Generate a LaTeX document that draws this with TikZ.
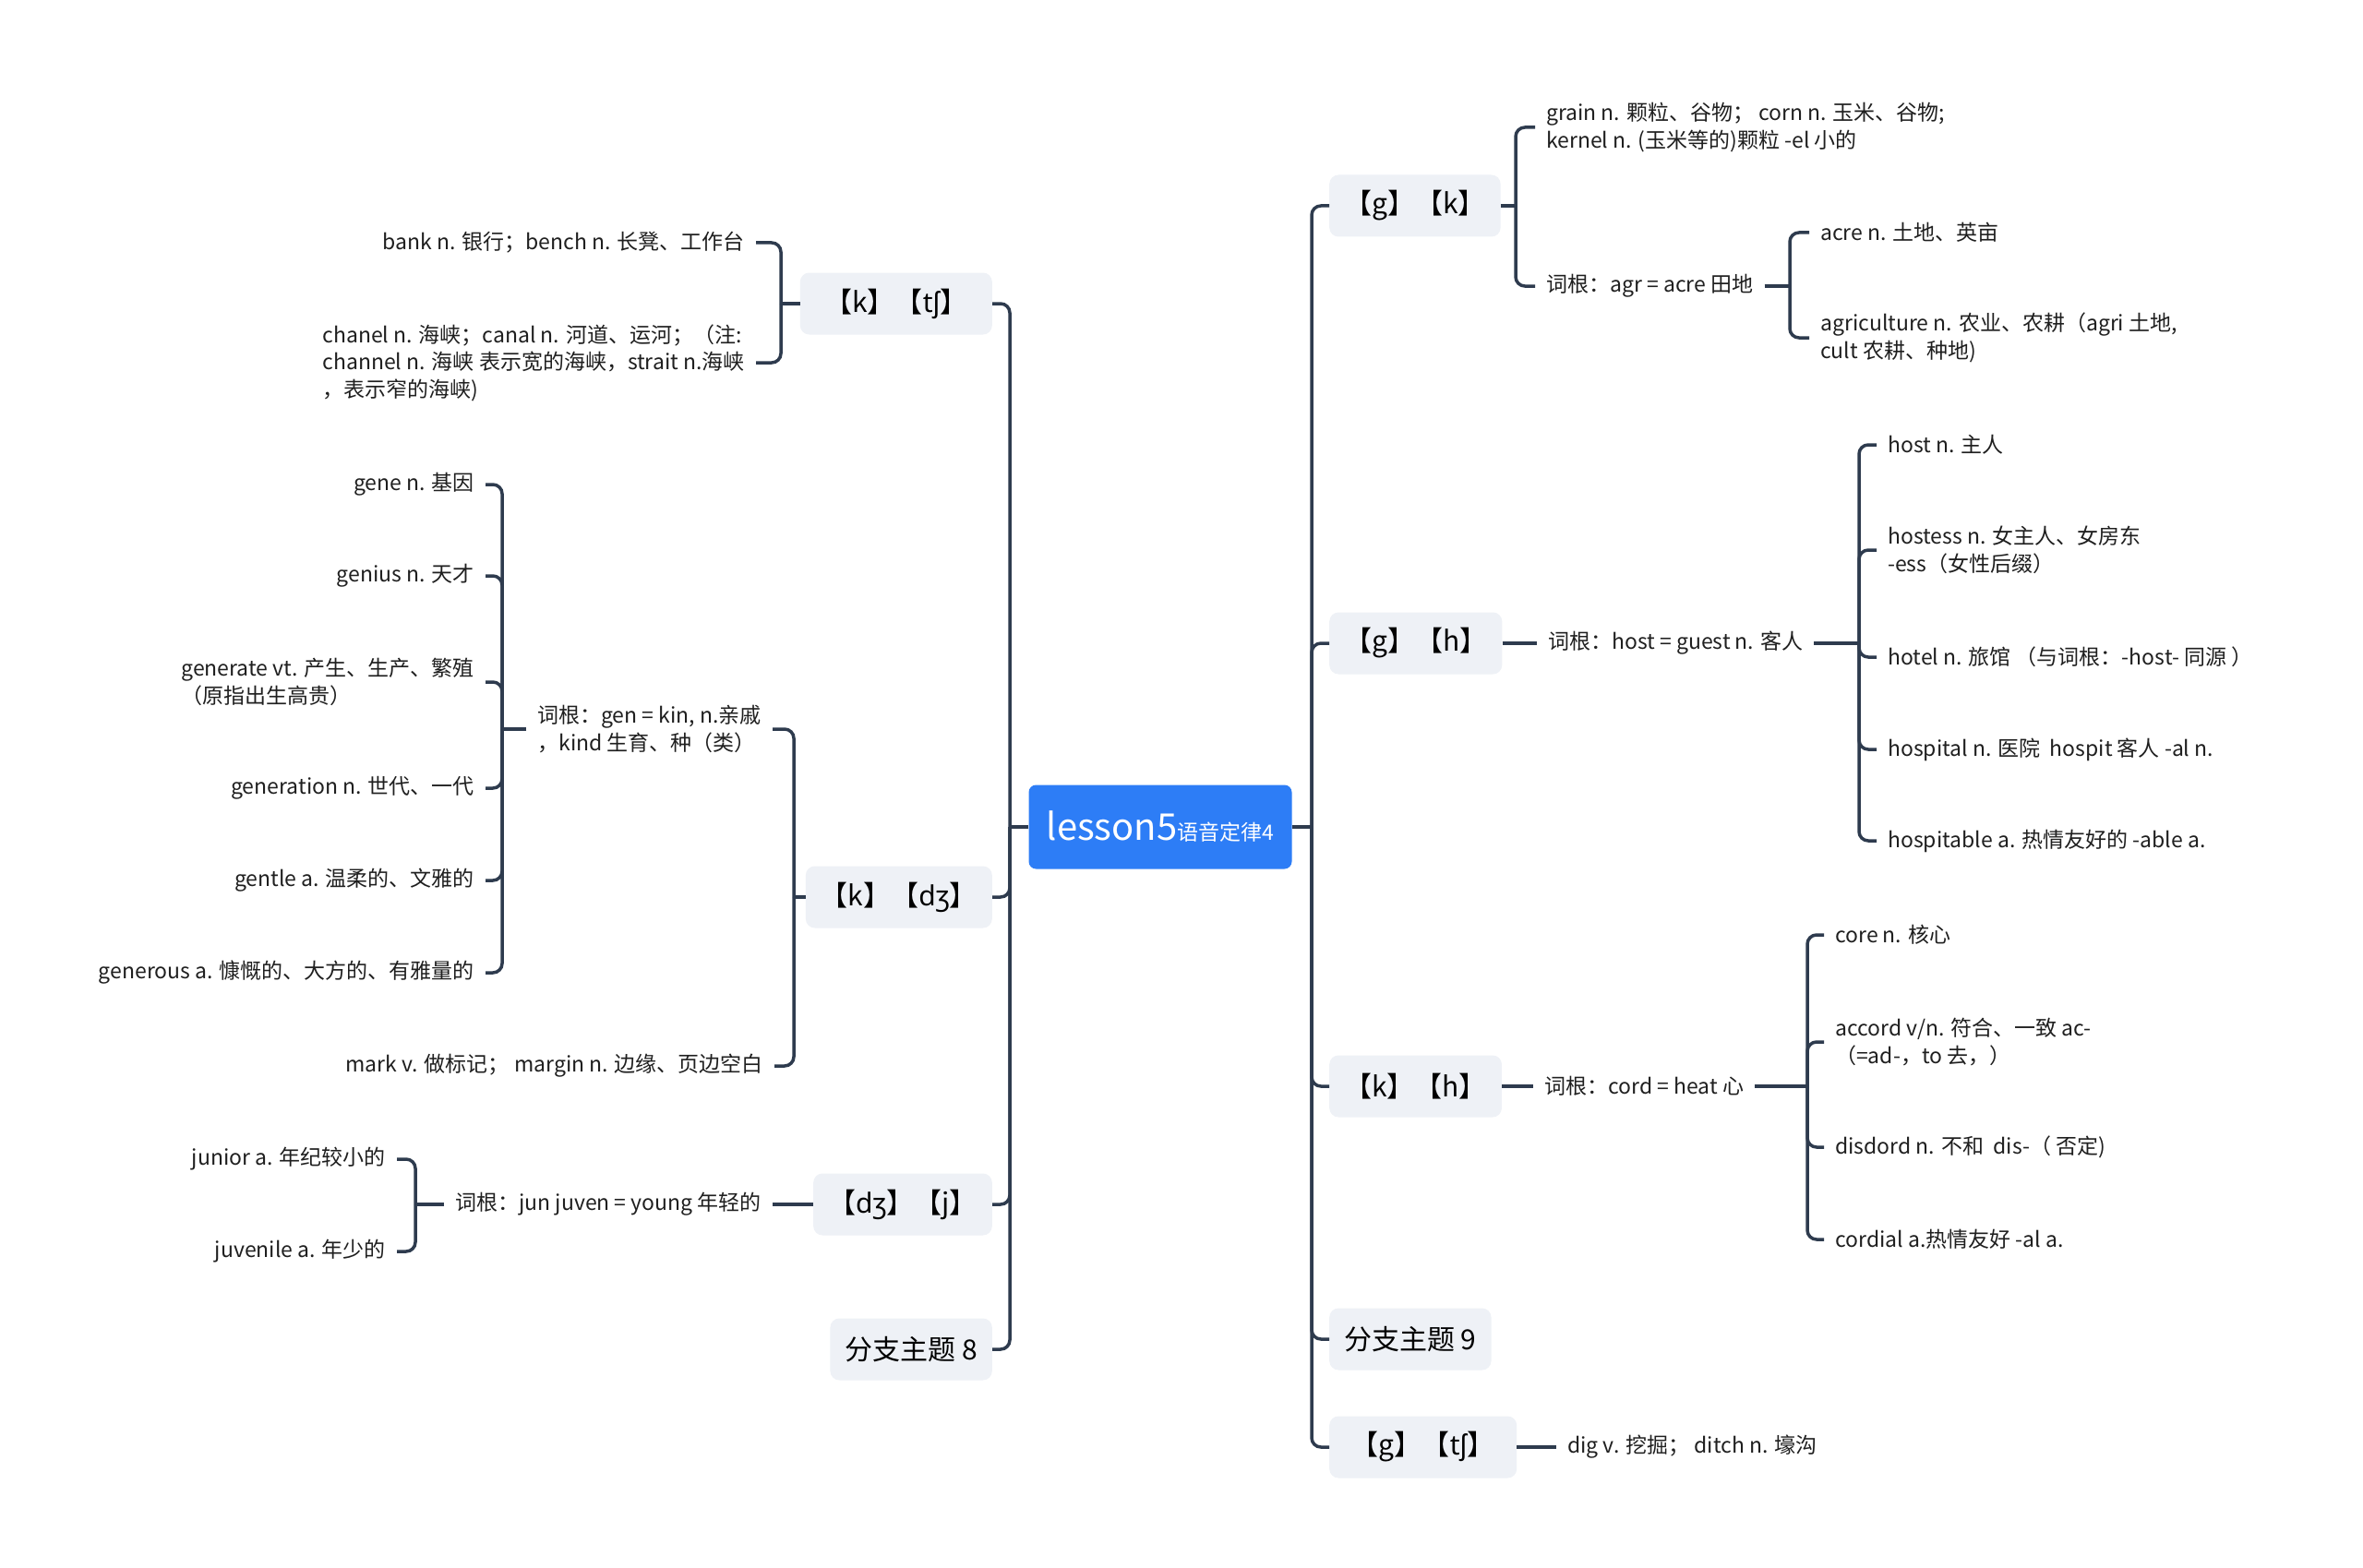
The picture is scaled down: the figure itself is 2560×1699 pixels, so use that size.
\documentclass[tikz,border=0pt]{standalone}
\usepackage{fontspec}
\setmainfont{Noto Sans CJK SC}
\newfontfamily\ipafont{Noto Sans}
\usepackage{xcolor}
\usepackage{tikz}
\usetikzlibrary{positioning}
\definecolor{rootcolor}{HTML}{2D7DF6}
\definecolor{branchcolor}{HTML}{EEF1F6}
\definecolor{linecolor}{HTML}{2E3B4E}
\definecolor{leaftext}{HTML}{1F1F1F}
\newcommand{\ipa}[1]{{\ipafont #1}}

\begin{document}
\begin{tikzpicture}[x=1pt, y=-1pt,
    root/.style={rectangle, rounded corners=8pt, fill=rootcolor, text=white, minimum width=285pt, minimum height=91pt, inner sep=0pt},
    branch/.style={rectangle, rounded corners=10pt, fill=branchcolor, text=black, minimum height=67pt, inner xsep=16pt, inner ysep=0pt, font=\fontsize{30pt}{36pt}\selectfont},
    leaf/.style={inner xsep=12pt, inner ysep=2pt, align=left, text=leaftext, font=\fontsize{23pt}{29.5pt}\selectfont},
    conn/.style={draw=linecolor, line width=3.5pt},
    elbow/.style={conn, rounded corners=10pt}
]
\fill[white] (0,0) rectangle (2560,1699);
\useasboundingbox (0,0) rectangle (2560,1699);

\node[root] (root) at (1257,896) {{\fontsize{40pt}{48pt}\selectfont lesson5}{\fontsize{23pt}{28pt}\selectfont 语音定律4}};
\coordinate (ltrunk) at (1094,896);
\coordinate (rtrunk) at (1421,896);

% right side
\node[branch, anchor=west] (gk) at (1440,223) {【g】【k】};
\node[branch, anchor=west] (gh) at (1440,697) {【g】【h】};
\node[branch, anchor=west] (kh) at (1440,1177) {【k】【h】};
\node[branch, anchor=west] (b9) at (1440,1451) {分支主题 9};
\node[branch, anchor=west, minimum width=203pt] (gtf) at (1440,1568) {【g】【\ipa{tʃ}】};

\node[leaf, anchor=west] (grain) at (1663,138) {grain n. 颗粒、谷物； corn n. 玉米、谷物;\\kernel n. (玉米等的)颗粒 -el 小的};
\node[leaf, anchor=west] (agr) at (1663,310) {词根：agr = acre 田地};
\node[leaf, anchor=west] (acre) at (1960,252) {acre n. 土地、英亩};
\node[leaf, anchor=west] (agri) at (1960,366) {agriculture n. 农业、农耕（agri 土地,\\cult 农耕、种地)};
\coordinate (gkj) at (1642,223);
\coordinate (agrj) at (1939,310);

\node[leaf, anchor=west] (ghroot) at (1665,697) {词根：host = guest n. 客人};
\node[leaf, anchor=west] (host) at (2033,482) {host n. 主人};
\node[leaf, anchor=west] (hostess) at (2033,596) {hostess n. 女主人、女房东\\-ess（女性后缀）};
\node[leaf, anchor=west] (hotel) at (2033,712) {hotel n. 旅馆 （与词根：-host- 同源 ）};
\node[leaf, anchor=west] (hospital) at (2033,812) {hospital n. 医院~~hospit 客人 -al n.};
\node[leaf, anchor=west] (hospitable) at (2033,911) {hospitable a. 热情友好的 -able a.};
\coordinate (ghj) at (2014,697);

\node[leaf, anchor=west] (khroot) at (1661,1177) {词根：cord = heat 心};
\node[leaf, anchor=west] (core) at (1976,1013) {core n. 核心};
\node[leaf, anchor=west] (accord) at (1976,1129) {accord v/n. 符合、一致 ac-\\（=ad-，to 去，）};
\node[leaf, anchor=west] (disdord) at (1976,1243) {disdord n. 不和~~dis-（ 否定)};
\node[leaf, anchor=west] (cordial) at (1976,1343) {cordial a.热情友好 -al a.};
\coordinate (khj) at (1958,1177);

\node[leaf, anchor=west] (dig) at (1686,1568) {dig v. 挖掘； ditch n. 壕沟};

% left side
\node[branch, anchor=east, minimum width=208pt] (ktf) at (1075,329) {【k】【\ipa{tʃ}】};
\node[branch, anchor=east] (kdz) at (1075,972) {【k】【\ipa{dʒ}】};
\node[branch, anchor=east] (dzj) at (1075,1305) {【\ipa{dʒ}】【j】};
\node[branch, anchor=east] (b8) at (1075,1462) {分支主题 8};

\node[leaf, anchor=east] (bank) at (819,263) {bank n. 银行；bench n. 长凳、工作台};
\node[leaf, anchor=east] (chanel) at (819,393) {chanel n. 海峡；canal n. 河道、运河；（注:\\channel n. 海峡 表示宽的海峡，strait n.海峡\\，表示窄的海峡)};
\coordinate (ktfj) at (846,329);

\node[leaf, anchor=east] (gen) at (837,790) {词根：gen = kin, n.亲戚\\，kind 生育、种（类）};
\node[leaf, anchor=east] (mark) at (839,1155) {mark v. 做标记； margin n. 边缘、页边空白};
\coordinate (kdzj) at (860,972);
\node[leaf, anchor=east] (gene) at (526,525) {gene n. 基因};
\node[leaf, anchor=east] (genius) at (526,624) {genius n. 天才};
\node[leaf, anchor=east] (generate) at (526,739) {generate vt. 产生、生产、繁殖\\（原指出生高贵）};
\node[leaf, anchor=east] (generation) at (526,854) {generation n. 世代、一代};
\node[leaf, anchor=east] (gentle) at (526,954) {gentle a. 温柔的、文雅的};
\node[leaf, anchor=east] (generous) at (526,1054) {generous a. 慷慨的、大方的、有雅量的};
\coordinate (genj) at (544,790);

\node[leaf, anchor=east] (jun) at (837,1305) {词根：jun juven = young 年轻的};
\node[leaf, anchor=east] (junior) at (430,1256) {junior a. 年纪较小的};
\node[leaf, anchor=east] (juvenile) at (430,1356) {juvenile a. 年少的};
\coordinate (junj) at (450,1305);

\draw[conn] (root.west) -- (ltrunk);
\draw[conn] (root.east) -- (rtrunk);
\foreach \b in {ktf,kdz,dzj,b8} \draw[elbow] (ltrunk) |- (\b.east);
\foreach \b in {gk,gh,kh,b9,gtf} \draw[elbow] (rtrunk) |- (\b.west);

\draw[conn] (gk.east) -- (gkj);
\foreach \l in {grain,agr} \draw[elbow] (gkj) |- (\l.west);
\draw[conn] (agr.east) -- (agrj);
\foreach \l in {acre,agri} \draw[elbow] (agrj) |- (\l.west);

\draw[conn] (gh.east) -- (ghroot.west);
\draw[conn] (ghroot.east) -- (ghj);
\foreach \l in {host,hostess,hotel,hospital,hospitable} \draw[elbow] (ghj) |- (\l.west);

\draw[conn] (kh.east) -- (khroot.west);
\draw[conn] (khroot.east) -- (khj);
\foreach \l in {core,accord,disdord,cordial} \draw[elbow] (khj) |- (\l.west);

\draw[conn] (gtf.east) -- (dig.west);

\draw[conn] (ktf.west) -- (ktfj);
\foreach \l in {bank,chanel} \draw[elbow] (ktfj) |- (\l.east);

\draw[conn] (kdz.west) -- (kdzj);
\foreach \l in {gen,mark} \draw[elbow] (kdzj) |- (\l.east);
\draw[conn] (gen.west) -- (genj);
\foreach \l in {gene,genius,generate,generation,gentle,generous} \draw[elbow] (genj) |- (\l.east);

\draw[conn] (dzj.west) -- (jun.east);
\draw[conn] (jun.west) -- (junj);
\foreach \l in {junior,juvenile} \draw[elbow] (junj) |- (\l.east);
\end{tikzpicture}
\end{document}
